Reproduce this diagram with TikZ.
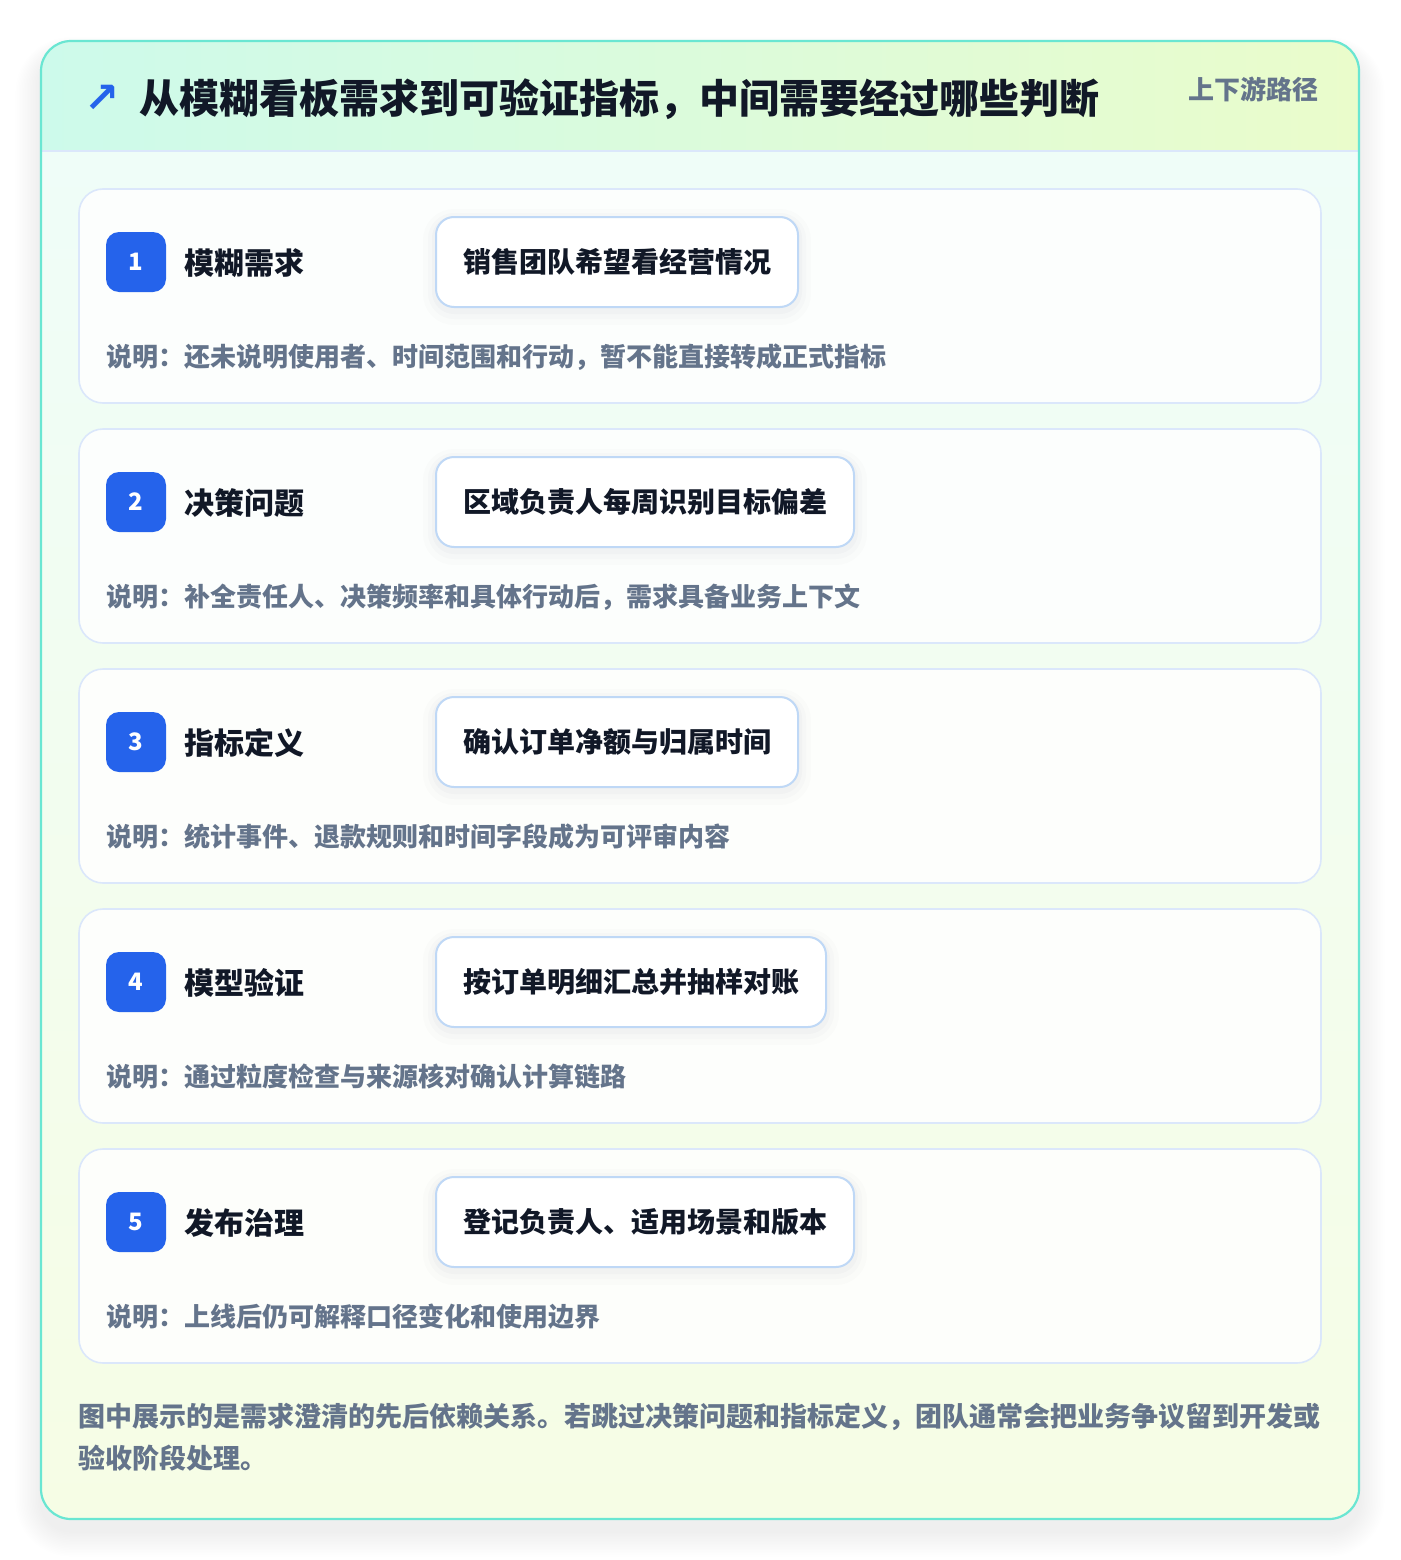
\documentclass[tikz,border=0pt]{standalone}
\usepackage{fontspec}
\setmainfont{Noto Sans CJK SC}
\newfontfamily\symfont{DejaVu Sans}
\definecolor{pagebg}{HTML}{FFFFFF}
\definecolor{titlecol}{HTML}{111827}
\definecolor{graytxt}{HTML}{64748B}
\definecolor{accent}{HTML}{2563EB}
\definecolor{tealedge}{HTML}{6AE6D2}
\definecolor{cardedge}{HTML}{DBE7FB}
\definecolor{boxedge}{HTML}{BFD8F6}
\definecolor{headl}{HTML}{CDFAEB}
\definecolor{headr}{HTML}{EAFCCB}
\definecolor{bodytop}{HTML}{EFFDF8}
\definecolor{bodybot}{HTML}{F6FDE5}
\definecolor{shadowcol}{HTML}{1E293B}
\tikzset{
  card/.style={draw=cardedge, line width=1.6pt, fill=white, fill opacity=0.85, text opacity=1,
    rounded corners=24pt, minimum width=1242pt, minimum height=214pt, inner sep=0pt},
  badge/.style={fill=accent, rounded corners=13pt, minimum width=60pt, minimum height=60pt,
    inner sep=0pt, text=white, font=\fontsize{24}{28}\selectfont\bfseries},
  steplabel/.style={anchor=west, inner sep=0pt, text=titlecol, font=\fontsize{30}{36}\selectfont\bfseries},
  stepbox/.style={anchor=west, draw=boxedge, line width=2pt, fill=white, rounded corners=18pt,
    minimum height=90pt, inner xsep=27pt, inner ysep=0pt, text=titlecol,
    font=\fontsize{28}{34}\selectfont\bfseries,
    preaction={draw=shadowcol, draw opacity=0.012, line width=26pt, transform canvas={yshift=-5pt}},
    preaction={draw=shadowcol, draw opacity=0.015, line width=16pt, transform canvas={yshift=-4pt}},
    preaction={draw=shadowcol, draw opacity=0.02, line width=8pt, transform canvas={yshift=-3pt}}},
  desc/.style={anchor=west, inner sep=0pt, text=graytxt, font=\fontsize{26}{32}\selectfont\bfseries},
}
\begin{document}
\begin{tikzpicture}[x=1pt,y=-1pt]
\useasboundingbox (0,0) rectangle (1400,1560);
\fill[pagebg] (0,0) rectangle (1400,1560);
% outer soft shadow
\foreach \i in {1,...,16}{
  \pgfmathsetmacro{\r}{30+1.6*\i}
  \fill[shadowcol, opacity=0.0045, rounded corners=\r pt]
    (41-1.6*\i, 41-1.0*\i+12) rectangle (1359+1.6*\i, 1519+1.6*\i+12);
}
% panel background
\begin{scope}
  \clip[rounded corners=30pt] (41,41) rectangle (1359,1519);
  \shade[top color=bodytop, bottom color=bodybot] (41,151) rectangle (1359,1519);
  \shade[left color=headl, right color=headr] (41,41) rectangle (1359,151);
  \draw[cardedge, line width=1.6pt] (41,151) -- (1359,151);
\end{scope}
\draw[tealedge, line width=2.2pt, rounded corners=30pt] (41,41) rectangle (1359,1519);
% header
\node[inner sep=0pt, text=accent, font=\symfont\bfseries\fontsize{42}{46}\selectfont] (icon) at (102,99) {↗};
\node[anchor=west, inner sep=0pt, text=titlecol, font=\fontsize{40}{48}\selectfont\bfseries] (title) at (139,99)
  {从模糊看板需求到可验证指标，中间需要经过哪些判断};
\node[anchor=east, inner sep=0pt, text=graytxt, font=\fontsize{26}{32}\selectfont\bfseries] (sub) at (1319,89) {上下游路径};
% cards
\foreach \n/\lab/\boxtxt/\dtxt [count=\k from 0] in {
  1/模糊需求/销售团队希望看经营情况/说明：还未说明使用者、时间范围和行动，暂不能直接转成正式指标,
  2/决策问题/区域负责人每周识别目标偏差/说明：补全责任人、决策频率和具体行动后，需求具备业务上下文,
  3/指标定义/确认订单净额与归属时间/说明：统计事件、退款规则和时间字段成为可评审内容,
  4/模型验证/按订单明细汇总并抽样对账/说明：通过粒度检查与来源核对确认计算链路,
  5/发布治理/登记负责人、适用场景和版本/说明：上线后仍可解释口径变化和使用边界}{
  \pgfmathsetmacro{\top}{189+240*\k}
  \node[card] (c\n) at (700,\top+107) {};
  \node[badge] (b\n) at (136,\top+73) {\n};
  \node[steplabel] (l\n) at (184,\top+74) {\lab};
  \node[stepbox] (x\n) at (435,\top+73) {\boxtxt};
  \node[desc] (d\n) at (106,\top+168) {\dtxt};
}
% bottom note
\node[anchor=west, inner sep=0pt, align=left, text=graytxt,
  font=\fontsize{27}{42}\selectfont\bfseries] (note) at (78,1437)
  {图中展示的是需求澄清的先后依赖关系。若跳过决策问题和指标定义，团队通常会把业务争议留到开发或\\验收阶段处理。};
\end{tikzpicture}
\end{document}
